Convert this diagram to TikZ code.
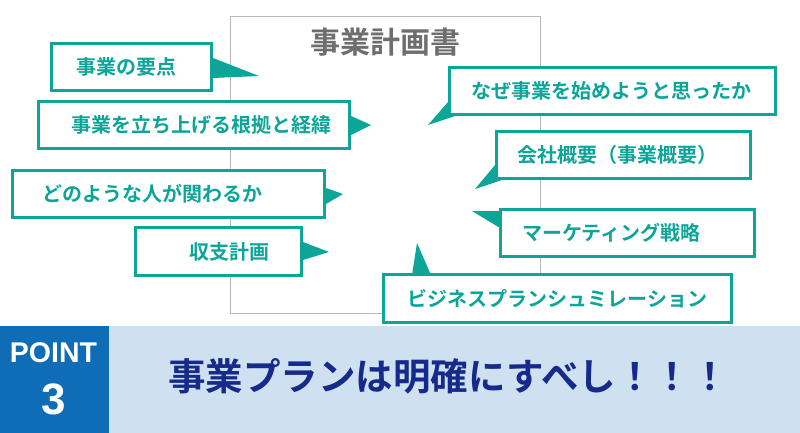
\documentclass[tikz,border=0pt]{standalone}
\usepackage{fontspec}
\setmainfont{Liberation Sans}
\newfontfamily\jpfont{Noto Sans CJK JP Bold}
\definecolor{callteal}{HTML}{0CA598}
\definecolor{sheetgray}{HTML}{B8B8B8}
\definecolor{titlegray}{HTML}{6E6E6E}
\definecolor{pointblue}{HTML}{0F6CB6}
\definecolor{bandblue}{HTML}{CFE1F1}
\definecolor{headnavy}{HTML}{152A8A}

\begin{document}
\begin{tikzpicture}[
        x=1pt, y=-1pt,
        call box/.style={draw=callteal, line width=3pt, fill=white, inner sep=0pt, minimum height=47.5pt,
            text=callteal, font=\jpfont\fontsize{20}{20}\selectfont},
        call tail/.style={fill=callteal}
      ]
      \useasboundingbox (0,0) rectangle (800,433);

      % sheet behind the callouts
      \draw [sheetgray, line width=1pt] (230.5,17) rectangle (540,313);
      \node[text=titlegray, font=\jpfont\fontsize{30}{30}\selectfont] (sheet title) at (385,42) {事業計画書};

      \foreach \ax/\ay/\bx/\by/\cx/\cy in {213/58/259/76/213/78, 351/116/371/125/351/135,
          326/188/343/194/326/204, 303/242/329/252/303/260,
          448/102/428/125/455/116, 495/165/475/189/502/180,
          500/211/472/211/500/228, 412/275/417/243/431/275} {
          \fill[call tail] (\ax,\ay) -- (\bx,\by) -- (\cx,\cy) -- cycle;
        }

      \node[call box, minimum width=160pt] (box summary) at (131.5,67) {事業の要点\hspace*{10pt}};
      \node[call box, minimum width=311pt] (box grounds) at (194,125) {\hspace*{15pt}事業を立ち上げる根拠と経緯};
      \node[call box, minimum width=312pt] (box people) at (168.5,194) {どのような人が関わるか\hspace*{32pt}};
      \node[call box, minimum width=166pt] (box budget) at (218.5,251.5) {\hspace*{22pt}収支計画};
      \node[call box, minimum width=326pt] (box motive) at (612.5,91) {なぜ事業を始めようと思ったか\hspace*{3pt}};
      \node[call box, minimum width=254pt] (box company) at (623.5,155) {会社概要（事業概要）\hspace*{12pt}};
      \node[call box, minimum width=254pt] (box marketing) at (627.5,233) {マーケティング戦略\hspace*{32pt}};
      \node[call box, minimum width=348pt] (box simulation) at (557.5,298.5) {ビジネスプランシュミレーション};

      % bottom band
      \fill[bandblue] (109,326) rectangle (800,433);
      \fill[pointblue] (0,326) rectangle (109,433);
      \node[text=white, font=\bfseries\fontsize{28.5}{28.5}\selectfont] (point word) at (53.5,353) {POINT};
      \node[text=white, font=\bfseries\fontsize{44}{44}\selectfont] (point number) at (53.5,399) {3};
      \node[text=headnavy, font=\jpfont\fontsize{37.5}{37.5}\selectfont] (headline) at (448.5,376) {事業プランは明確にすべし！！！};

    \end{tikzpicture}
\end{document}
